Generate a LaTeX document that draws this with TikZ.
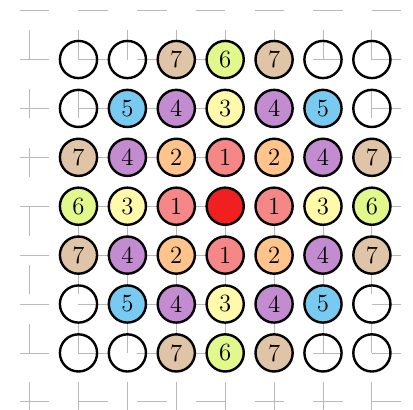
\documentclass[tikz,border=0pt]{standalone}
\definecolor{cseven}{RGB}{224,196,168}
\definecolor{csix}{RGB}{225,248,140}
\definecolor{cfive}{RGB}{120,202,240}
\definecolor{cfour}{RGB}{196,140,208}
\definecolor{cthree}{RGB}{255,250,170}
\definecolor{ctwo}{RGB}{255,196,140}
\definecolor{cone}{RGB}{245,135,135}
\definecolor{czero}{RGB}{240,32,32}
\tikzset{
  bg/.style={draw=gray!55, line width=0.45pt, dash pattern=on 0.6cm off 0.6cm},
  disc/.style={circle, draw=black, line width=1.4pt, minimum size=0.76cm, inner sep=0pt, font=\Large},
}
\begin{document}
\begin{tikzpicture}
\useasboundingbox (-1.605,1.217) rectangle (6.841,-7.167);
% background dashed grid
\foreach \y in {1,0,-1,-2,-3,-4,-5,-6,-7}
  \draw[bg] (-1.2,\y) -- (7.2,\y);
\foreach \x in {-1,0,1,2,3,4,5,6,7}
  \draw[bg] (\x,-7.2) -- (\x,1.2);
% discs
\foreach \r/\row in {0/{0,0,7,6,7,0,0},1/{0,5,4,3,4,5,0},2/{7,4,2,1,2,4,7},3/{6,3,1,9,1,3,6},4/{7,4,2,1,2,4,7},5/{0,5,4,3,4,5,0},6/{0,0,7,6,7,0,0}}{
  \foreach \v [count=\c from 0] in \row {
    \ifnum\v=0
      \node[disc] (n-\r-\c) at (\c,-\r) {};
    \else\ifnum\v=9
      \node[disc, fill=czero] (n-\r-\c) at (\c,-\r) {};
    \else\ifnum\v=1
      \node[disc, fill=cone] (n-\r-\c) at (\c,-\r) {1};
    \else\ifnum\v=2
      \node[disc, fill=ctwo] (n-\r-\c) at (\c,-\r) {2};
    \else\ifnum\v=3
      \node[disc, fill=cthree] (n-\r-\c) at (\c,-\r) {3};
    \else\ifnum\v=4
      \node[disc, fill=cfour] (n-\r-\c) at (\c,-\r) {4};
    \else\ifnum\v=5
      \node[disc, fill=cfive] (n-\r-\c) at (\c,-\r) {5};
    \else\ifnum\v=6
      \node[disc, fill=csix] (n-\r-\c) at (\c,-\r) {6};
    \else
      \node[disc, fill=cseven] (n-\r-\c) at (\c,-\r) {7};
    \fi\fi\fi\fi\fi\fi\fi\fi
  }
}
\end{tikzpicture}
\end{document}
